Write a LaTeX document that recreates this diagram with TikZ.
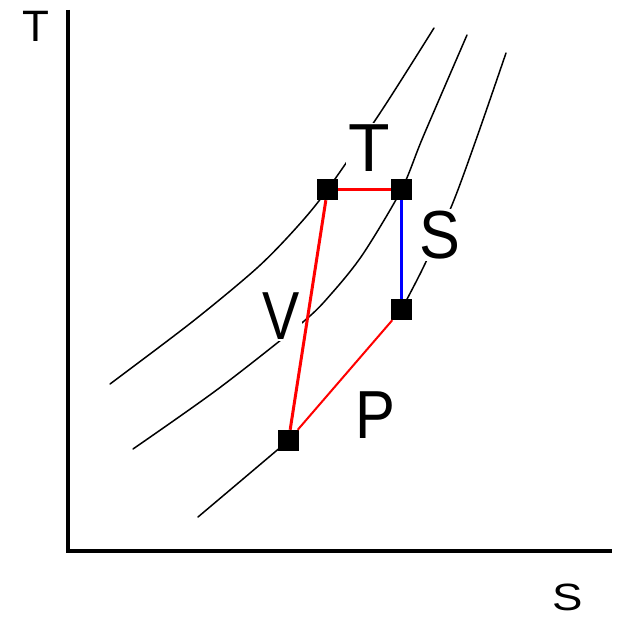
\documentclass[tikz,border=0pt]{standalone}
\usepackage{fontspec}
\setmainfont{Liberation Sans}
\usepackage{tikz}

\begin{document}
\begin{tikzpicture}[x=1pt,y=-1pt,
  state/.style={fill=black,inner sep=0pt,minimum size=21pt},
  curve/.style={line width=1.5pt,line cap=round},
  big/.style={fill=white,inner sep=2pt,font=\fontsize{68}{68}\selectfont},
  axislbl/.style={inner sep=0pt,font=\fontsize{44}{44}\selectfont}]
  \useasboundingbox (0,0) rectangle (618,617);
  \draw[line width=3.5pt] (68,10) -- (68,551) -- (612,551);
  \node[axislbl] (tlab) at (36,26) {T};
  \node[axislbl,font=\fontsize{38}{38}\selectfont] (slab) at (568,597) {\scalebox{1.2}[1]{S}};
  \draw[curve] plot[smooth] coordinates {(110,384) (192,322) (257,268) (297,227) (327.5,189.5) (382,110) (434,28)};
  \draw[curve] plot[smooth] coordinates {(133,449) (218,389) (303,322) (332,293) (363,254) (401.5,189.5) (423,137) (467,35)};
  \draw[curve] plot[smooth] coordinates {(198,517) (243,479) (288.5,440.5)};
  \draw[curve] plot[smooth] coordinates {(401.5,309.5) (423,268) (452,205) (477,137) (506,53)};
  \node[big] (lT) at (369,148) {T};
  \node[big] (lV) at (281,316) {\scalebox{0.82}[1]{V}};
  \node[big] (lS) at (440,235) {\scalebox{0.9}[1]{S}};
  \node[big] (lP) at (375,415) {\scalebox{0.88}[1]{P}};
  \node[state] (p1) at (327.5,189.5) {};
  \node[state] (p2) at (401.5,189.5) {};
  \node[state] (p3) at (401.5,309.5) {};
  \node[state] (p4) at (288.5,440.5) {};
  \draw[red,line width=3pt] (p1) -- (p2);
  \draw[red,line width=3pt] (p1) -- (p4);
  \draw[red,line width=2pt] (p4) -- (p3);
  \draw[blue,line width=3pt] (p2) -- (p3);
\end{tikzpicture}
\end{document}
